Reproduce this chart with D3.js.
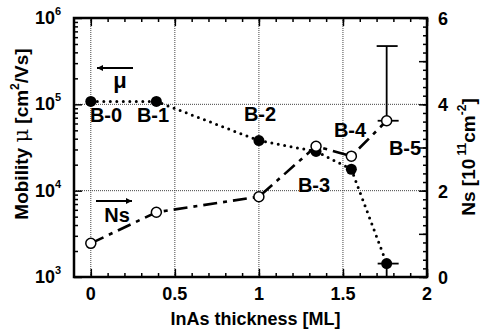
<!DOCTYPE html>
<html>
<head>
<meta charset="utf-8">
<script src="https://cdn.jsdelivr.net/npm/d3@7"></script>
<style>
  body { margin: 0; background: #fff; }
  svg text { font-family: "Liberation Sans", Arial, sans-serif; font-weight: bold; fill: #000; }
</style>
</head>
<body>
<svg id="chart" width="484" height="332"></svg>
<script>
// sample data
var samples   = ["B-0", "B-1", "B-2", "B-3", "B-4", "B-5"];
var thickness = [0, 0.39, 1.0, 1.34, 1.55, 1.76];
var mobility  = [1.08e5, 1.08e5, 3.8e4, 2.85e4, 1.77e4, 1.43e3];
var ns        = [0.78, 1.5, 1.86, 3.03, 2.8, 3.62];
// error bars for B-5
var nsUpper   = [null, null, null, null, null, 5.35];
var muLower   = [null, null, null, null, null, 1e3];

var xTicks  = [0, 0.5, 1, 1.5, 2];
var muTicks = [1e3, 1e4, 1e5, 1e6];
var nsTicks = [0, 2, 4, 6];

var svg = d3.select("#chart");
var L = 74, R = 427, T = 18, B = 277;

var x  = d3.scaleLinear().domain([-0.1, 2]).range([L, R]);
var yMu = d3.scaleLog().domain([1e3, 1e6]).range([B, T]);
var yNs = d3.scaleLinear().domain([0, 6]).range([B, T]);

// grid
var grid = svg.append("g").attr("stroke", "#444").attr("stroke-width", 1).attr("stroke-dasharray", "1,1");
[0, 0.5, 1, 1.5].forEach(function(v){
  grid.append("line").attr("x1", x(v)).attr("x2", x(v)).attr("y1", T).attr("y2", B);
});
[1e4, 1e5].forEach(function(v){
  grid.append("line").attr("x1", L).attr("x2", R).attr("y1", yMu(v)).attr("y2", yMu(v));
});

// ticks (inward)
function styleAxis(g){
  g.select(".domain").remove();
  g.selectAll("text").remove();
  g.selectAll("line").attr("stroke", "#000").attr("stroke-width", 1.5);
}
var xMinor = d3.range(0, 21).map(function(i){ return i / 10; });
svg.append("g").attr("transform", "translate(0," + B + ")")
  .call(d3.axisBottom(x).tickValues(xMinor).tickSize(-4)).call(styleAxis);
svg.append("g").attr("transform", "translate(0," + B + ")")
  .call(d3.axisBottom(x).tickValues(xTicks).tickSize(-8)).call(styleAxis);
svg.append("g").attr("transform", "translate(0," + T + ")")
  .call(d3.axisTop(x).tickValues(xMinor).tickSize(-4)).call(styleAxis);
svg.append("g").attr("transform", "translate(0," + T + ")")
  .call(d3.axisTop(x).tickValues(xTicks).tickSize(-8)).call(styleAxis);

var muMinor = [];
[1e3, 1e4, 1e5].forEach(function(d){ for (var k = 2; k <= 9; k++) muMinor.push(d * k); });
svg.append("g").attr("transform", "translate(" + L + ",0)")
  .call(d3.axisLeft(yMu).tickValues(muMinor).tickSize(-4)).call(styleAxis);
svg.append("g").attr("transform", "translate(" + L + ",0)")
  .call(d3.axisLeft(yMu).tickValues(muTicks).tickSize(-8)).call(styleAxis);

var nsMinor = d3.range(0, 31).map(function(i){ return i / 5; });
svg.append("g").attr("transform", "translate(" + R + ",0)")
  .call(d3.axisRight(yNs).tickValues(nsMinor).tickSize(-4)).call(styleAxis);
svg.append("g").attr("transform", "translate(" + R + ",0)")
  .call(d3.axisRight(yNs).tickValues(d3.range(0, 7)).tickSize(-8)).call(styleAxis);

// frame
svg.append("rect").attr("x", L).attr("y", T).attr("width", R - L).attr("height", B - T)
  .attr("fill", "none").attr("stroke", "#000").attr("stroke-width", 2.5);

// tick labels
svg.append("g").selectAll("text").data(xTicks).enter().append("text")
  .attr("x", function(d){ return x(d); }).attr("y", 300)
  .attr("text-anchor", "middle").attr("font-size", 18)
  .text(function(d){ return d; });

var muLab = svg.append("g").selectAll("text").data(muTicks).enter().append("text")
  .attr("x", 35).attr("y", function(d){ return yMu(d) + 6; }).attr("font-size", 18);
muLab.append("tspan").text("10");
muLab.append("tspan").attr("font-size", 11).attr("dy", -9)
  .text(function(d){ return Math.round(Math.log10(d)); });

svg.append("g").selectAll("text").data(nsTicks).enter().append("text")
  .attr("x", 438).attr("y", function(d){ return yNs(d) + 7; }).attr("font-size", 18)
  .text(function(d){ return d; });

// axis titles
svg.append("text").attr("x", (L + R) / 2 + 5).attr("y", 325).attr("text-anchor", "middle")
  .attr("font-size", 18).text("InAs thickness [ML]");

var yt = svg.append("text").attr("transform", "translate(28,134) rotate(-90)")
  .attr("text-anchor", "middle").attr("font-size", 19);
yt.append("tspan").text("Mobility ");
yt.append("tspan").attr("font-family", "DejaVu Serif").attr("font-weight", "normal").attr("font-size", 21).text("μ");
yt.append("tspan").text("  [cm");
yt.append("tspan").attr("font-size", 12).attr("dy", -9).text("2");
yt.append("tspan").attr("dy", 9).text("/Vs]");

var rt = svg.append("text").attr("transform", "translate(475,157) rotate(-90)")
  .attr("text-anchor", "middle").attr("font-size", 19);
rt.append("tspan").text("Ns  [10");
rt.append("tspan").attr("font-size", 12).attr("dy", -9).text(" 11");
rt.append("tspan").attr("dy", 9).text("cm");
rt.append("tspan").attr("font-size", 12).attr("dy", -9).text("-2");
rt.append("tspan").attr("dy", 9).text("]");

// lines
var pts = thickness.map(function(t, i){ return {t: t, mu: mobility[i], ns: ns[i], name: samples[i]}; });
var muLine = d3.line().x(function(d){ return x(d.t); }).y(function(d){ return yMu(d.mu); });
var nsLine = d3.line().x(function(d){ return x(d.t); }).y(function(d){ return yNs(d.ns); });

svg.append("path").attr("d", muLine(pts)).attr("fill", "none").attr("stroke", "#000")
  .attr("stroke-width", 3).attr("stroke-linecap", "round").attr("stroke-dasharray", "0,6.5");
svg.append("path").attr("d", nsLine(pts)).attr("fill", "none").attr("stroke", "#000")
  .attr("stroke-width", 2.6).attr("stroke-dasharray", "14,6,4,6");

// error bars
var eb = svg.append("g").attr("stroke", "#000").attr("stroke-width", 1.8);
pts.forEach(function(d, i){
  if (nsUpper[i] != null) {
    eb.append("line").attr("x1", x(d.t)).attr("x2", x(d.t)).attr("y1", yNs(d.ns)).attr("y2", yNs(nsUpper[i]));
    eb.append("line").attr("x1", x(d.t) - 10).attr("x2", x(d.t) + 11).attr("y1", yNs(nsUpper[i])).attr("y2", yNs(nsUpper[i]));
    eb.append("line").attr("x1", x(d.t) - 9).attr("x2", x(d.t) + 12).attr("y1", yNs(d.ns)).attr("y2", yNs(d.ns));
  }
  if (muLower[i] != null) {
    eb.append("line").attr("x1", x(d.t)).attr("x2", x(d.t)).attr("y1", yMu(d.mu)).attr("y2", yMu(muLower[i]));
    eb.append("line").attr("x1", x(d.t) - 9).attr("x2", x(d.t) + 12).attr("y1", yMu(d.mu)).attr("y2", yMu(d.mu));
  }
});

// markers
svg.append("g").selectAll("circle").data(pts).enter().append("circle")
  .attr("cx", function(d){ return x(d.t); }).attr("cy", function(d){ return yMu(d.mu); })
  .attr("r", 5.5).attr("fill", "#000");
svg.append("g").selectAll("circle").data(pts).enter().append("circle")
  .attr("cx", function(d){ return x(d.t); }).attr("cy", function(d){ return yNs(d.ns); })
  .attr("r", 5).attr("fill", "#fff").attr("stroke", "#000").attr("stroke-width", 1.5);

// sample labels
var labelPos = [[106, 122], [153, 122], [260, 121], [314, 192], [350, 137], [405, 155]];
svg.append("g").selectAll("text").data(samples).enter().append("text")
  .attr("x", function(d, i){ return labelPos[i][0]; }).attr("y", function(d, i){ return labelPos[i][1]; })
  .attr("text-anchor", "middle").attr("font-size", 20).text(function(d){ return d; });

// arrows
svg.append("defs").append("marker").attr("id", "ah").attr("viewBox", "0 -5 10 10")
  .attr("refX", 10).attr("refY", 0).attr("markerWidth", 12).attr("markerHeight", 6)
  .attr("markerUnits", "userSpaceOnUse").attr("orient", "auto")
  .append("path").attr("d", "M0,-5L10,0L0,5Z").attr("fill", "#000");
svg.append("line").attr("x1", 133).attr("x2", 97).attr("y1", 68).attr("y2", 68)
  .attr("stroke", "#000").attr("stroke-width", 2).attr("marker-end", "url(#ah)");
svg.append("text").attr("x", 120).attr("y", 88).attr("text-anchor", "middle")
  .attr("font-family", "DejaVu Serif").attr("font-weight", "normal").attr("font-size", 22).text("μ");
svg.append("line").attr("x1", 96).attr("x2", 132).attr("y1", 201).attr("y2", 201)
  .attr("stroke", "#000").attr("stroke-width", 2).attr("marker-end", "url(#ah)");
svg.append("text").attr("x", 117).attr("y", 222).attr("text-anchor", "middle")
  .attr("font-size", 20).text("Ns");
</script>
</body>
</html>
